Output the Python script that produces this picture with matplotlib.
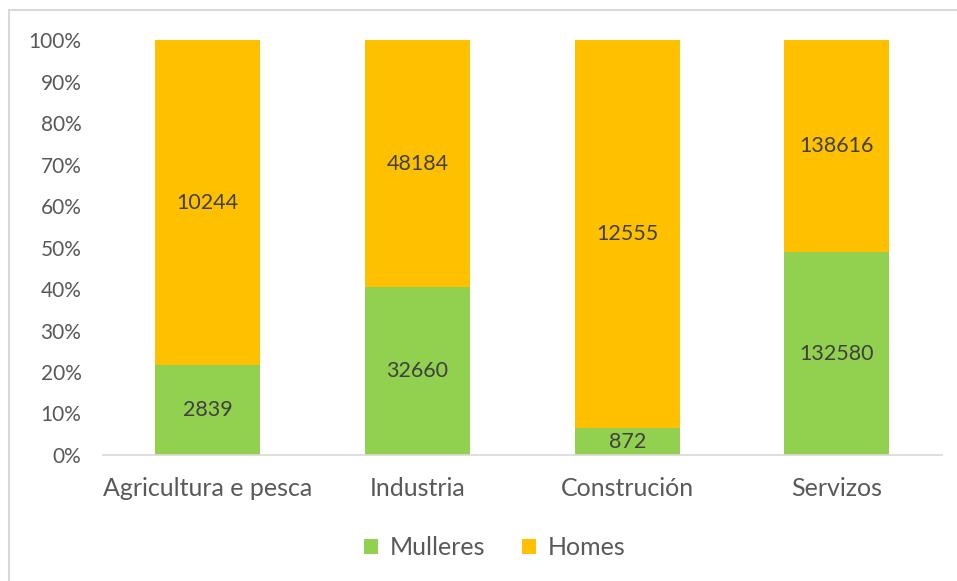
import matplotlib.pyplot as plt
from matplotlib.patches import Rectangle

# Datos
sectores = ["Agricultura e pesca", "Industria", "Construción", "Servizos"]
mulleres = [2839, 32660, 872, 132580]
homes = [10244, 48184, 12555, 138616]

verde = "#92D050"
amarelo = "#FFC000"
gris = "#595959"

plt.rcParams['font.family'] = ['Lato', 'DejaVu Sans']

fig = plt.figure(figsize=(9.57, 5.81), dpi=100)
ax = fig.add_axes([0.1076, 0.2169, 0.8764, 0.7141])

totais = [m + h for m, h in zip(mulleres, homes)]
pct_m = [m / t * 100 for m, t in zip(mulleres, totais)]
pct_h = [h / t * 100 for h, t in zip(homes, totais)]

x = range(len(sectores))
b1 = ax.bar(x, pct_m, width=0.5, color=verde, label="Mulleres")
b2 = ax.bar(x, pct_h, width=0.5, bottom=pct_m, color=amarelo, label="Homes")

# Etiquetas de valores
for i in x:
    ax.text(i, pct_m[i] / 2, str(mulleres[i]), ha='center', va='center',
            fontsize=15.5, color='#404040')
    ax.text(i, pct_m[i] + pct_h[i] / 2, str(homes[i]), ha='center', va='center',
            fontsize=15.5, color='#404040')

ax.set_xlim(-0.5, 3.5)
ax.set_ylim(0, 100)
ax.set_yticks(range(0, 101, 10))
ax.set_yticklabels([f"{v}%" for v in range(0, 101, 10)])
ax.set_xticks(list(x))
ax.set_xticklabels(sectores)
ax.tick_params(axis='both', length=0, colors=gris)
ax.tick_params(axis='y', labelsize=15, pad=15.5)
ax.tick_params(axis='x', labelsize=18, pad=16)

for s in ['top', 'right', 'left']:
    ax.spines[s].set_visible(False)
ax.spines['bottom'].set_color('#D9D9D9')
ax.spines['bottom'].set_linewidth(1.2)

leg = fig.legend(handles=[b1, b2], loc='center', bbox_to_anchor=(0.517, 0.057),
                 ncol=2, frameon=False, fontsize=18, handlelength=0.55,
                 handleheight=0.55, handletextpad=0.45, columnspacing=1.5)
for t in leg.get_texts():
    t.set_color(gris)

# Marco do gráfico
fig.patches.append(Rectangle((9 / 957, -0.1), 1.1, 1 - 10 / 581 + 0.1,
                             transform=fig.transFigure, fill=False,
                             edgecolor='#D9D9D9', linewidth=1.5))

fig.savefig("out.png", dpi=100)
